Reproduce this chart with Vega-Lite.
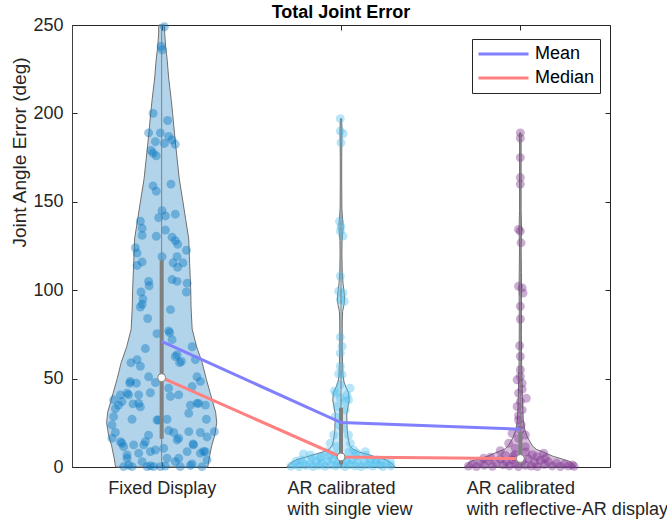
{
  "$schema": "https://vega.github.io/schema/vega-lite/v6.json",
  "width": 538,
  "height": 442,
  "autosize": {"type": "none"},
  "padding": {"left": 72, "top": 25, "right": 57, "bottom": 55},
  "background": "#ffffff",
  "title": {"text": "Total Joint Error", "fontSize": 18, "fontWeight": "bold", "color": "#000000", "anchor": "middle", "offset": 0, "baseline": "alphabetic", "dy": 20, "font": "Liberation Sans"},
  "config": {
    "font": "Liberation Sans",
    "view": {"stroke": "#262626", "strokeWidth": 1}
  },
  "datasets": {
    "violin": [
      {"g":"A","v":0,"lo":0.743,"hi":1.257},{"g":"A","v":5,"lo":0.735,"hi":1.265},{"g":"A","v":12,"lo":0.721,"hi":1.279},{"g":"A","v":18,"lo":0.704,"hi":1.296},{"g":"A","v":25,"lo":0.693,"hi":1.307},{"g":"A","v":31,"lo":0.699,"hi":1.301},{"g":"A","v":37,"lo":0.716,"hi":1.284},{"g":"A","v":42,"lo":0.730,"hi":1.270},{"g":"A","v":50,"lo":0.752,"hi":1.248},{"g":"A","v":59,"lo":0.774,"hi":1.226},{"g":"A","v":68,"lo":0.805,"hi":1.195},{"g":"A","v":78,"lo":0.830,"hi":1.170},{"g":"A","v":90,"lo":0.836,"hi":1.164},{"g":"A","v":100,"lo":0.838,"hi":1.162},{"g":"A","v":115,"lo":0.844,"hi":1.156},{"g":"A","v":129,"lo":0.849,"hi":1.151},{"g":"A","v":140,"lo":0.866,"hi":1.134},{"g":"A","v":151,"lo":0.883,"hi":1.117},{"g":"A","v":163,"lo":0.902,"hi":1.098},{"g":"A","v":185,"lo":0.925,"hi":1.075},{"g":"A","v":200,"lo":0.939,"hi":1.061},{"g":"A","v":208,"lo":0.947,"hi":1.053},{"g":"A","v":220,"lo":0.961,"hi":1.039},{"g":"A","v":230,"lo":0.969,"hi":1.031},{"g":"A","v":238,"lo":0.978,"hi":1.022},{"g":"A","v":245,"lo":0.983,"hi":1.017},{"g":"A","v":250,"lo":0.984,"hi":1.016},
      {"g":"B","v":0,"lo":1.699,"hi":2.301},{"g":"B","v":2,"lo":1.716,"hi":2.284},{"g":"B","v":4,"lo":1.749,"hi":2.251},{"g":"B","v":5.5,"lo":1.799,"hi":2.201},{"g":"B","v":7,"lo":1.849,"hi":2.151},{"g":"B","v":8.5,"lo":1.900,"hi":2.100},{"g":"B","v":10,"lo":1.933,"hi":2.067},{"g":"B","v":12,"lo":1.950,"hi":2.050},{"g":"B","v":15,"lo":1.958,"hi":2.042},{"g":"B","v":20,"lo":1.965,"hi":2.035},{"g":"B","v":25,"lo":1.967,"hi":2.033},{"g":"B","v":30,"lo":1.968,"hi":2.032},{"g":"B","v":34,"lo":1.961,"hi":2.039},{"g":"B","v":38,"lo":1.954,"hi":2.046},{"g":"B","v":42,"lo":1.958,"hi":2.042},{"g":"B","v":45,"lo":1.972,"hi":2.028},{"g":"B","v":48,"lo":1.983,"hi":2.017},{"g":"B","v":52,"lo":1.989,"hi":2.011},{"g":"B","v":58,"lo":1.991,"hi":2.009},{"g":"B","v":66,"lo":1.993,"hi":2.007},{"g":"B","v":74,"lo":1.993,"hi":2.007},{"g":"B","v":82,"lo":1.993,"hi":2.007},{"g":"B","v":88,"lo":1.991,"hi":2.009},{"g":"B","v":92,"lo":1.983,"hi":2.017},{"g":"B","v":95,"lo":1.980,"hi":2.020},{"g":"B","v":99,"lo":1.983,"hi":2.017},{"g":"B","v":104,"lo":1.989,"hi":2.011},{"g":"B","v":110,"lo":1.993,"hi":2.007},{"g":"B","v":120,"lo":1.995,"hi":2.005},{"g":"B","v":128,"lo":1.994,"hi":2.006},{"g":"B","v":132,"lo":1.991,"hi":2.009},{"g":"B","v":136,"lo":1.988,"hi":2.012},{"g":"B","v":140,"lo":1.991,"hi":2.009},{"g":"B","v":146,"lo":1.995,"hi":2.005},{"g":"B","v":160,"lo":1.996,"hi":2.004},{"g":"B","v":175,"lo":1.996,"hi":2.004},{"g":"B","v":185,"lo":1.995,"hi":2.005},{"g":"B","v":190,"lo":1.994,"hi":2.006},{"g":"B","v":194,"lo":1.9955,"hi":2.0045},{"g":"B","v":197,"lo":1.997,"hi":2.003},
      {"g":"C","v":0,"lo":2.693,"hi":3.307},{"g":"C","v":1.5,"lo":2.704,"hi":3.296},{"g":"C","v":3,"lo":2.721,"hi":3.279},{"g":"C","v":4.5,"lo":2.766,"hi":3.234},{"g":"C","v":6,"lo":2.816,"hi":3.184},{"g":"C","v":8,"lo":2.861,"hi":3.139},{"g":"C","v":10,"lo":2.911,"hi":3.089},{"g":"C","v":12,"lo":2.933,"hi":3.067},{"g":"C","v":14,"lo":2.944,"hi":3.056},{"g":"C","v":17,"lo":2.961,"hi":3.039},{"g":"C","v":21,"lo":2.975,"hi":3.025},{"g":"C","v":26,"lo":2.983,"hi":3.017},{"g":"C","v":32,"lo":2.986,"hi":3.014},{"g":"C","v":40,"lo":2.989,"hi":3.011},{"g":"C","v":50,"lo":2.991,"hi":3.009},{"g":"C","v":60,"lo":2.993,"hi":3.007},{"g":"C","v":75,"lo":2.994,"hi":3.006},{"g":"C","v":90,"lo":2.994,"hi":3.006},{"g":"C","v":100,"lo":2.993,"hi":3.007},{"g":"C","v":110,"lo":2.994,"hi":3.006},{"g":"C","v":125,"lo":2.9955,"hi":3.0045},{"g":"C","v":134,"lo":2.993,"hi":3.007},{"g":"C","v":145,"lo":2.9955,"hi":3.0045},{"g":"C","v":160,"lo":2.9955,"hi":3.0045},{"g":"C","v":175,"lo":2.9955,"hi":3.0045},{"g":"C","v":185,"lo":2.9955,"hi":3.0045},{"g":"C","v":189,"lo":2.997,"hi":3.003}
    ],
    "pts": [
      {"g":"A","x":1.015,"v":249},{"g":"A","x":0.997,"v":238},{"g":"A","x":1.003,"v":236},{"g":"A","x":0.952,"v":200},{"g":"A","x":1.033,"v":196},{"g":"A","x":0.927,"v":189},{"g":"A","x":0.993,"v":189},{"g":"A","x":1.039,"v":187},{"g":"A","x":0.965,"v":184},{"g":"A","x":1.015,"v":183},{"g":"A","x":1.058,"v":185},{"g":"A","x":1.076,"v":182.5},{"g":"A","x":0.941,"v":179},{"g":"A","x":0.952,"v":177.5},{"g":"A","x":0.970,"v":176},{"g":"A","x":0.952,"v":159},{"g":"A","x":0.970,"v":156},{"g":"A","x":1.052,"v":160},{"g":"A","x":1.002,"v":145},{"g":"A","x":0.983,"v":141},{"g":"A","x":1.021,"v":142},{"g":"A","x":1.076,"v":143},{"g":"A","x":0.881,"v":139},{"g":"A","x":0.891,"v":135},{"g":"A","x":0.891,"v":131},{"g":"A","x":0.970,"v":130.5},{"g":"A","x":1.021,"v":134},{"g":"A","x":1.058,"v":130},{"g":"A","x":1.076,"v":128},{"g":"A","x":1.089,"v":126},{"g":"A","x":1.138,"v":122.6},{"g":"A","x":0.853,"v":124},
      {"g":"A","x":0.863,"v":121},{"g":"A","x":1.002,"v":119},{"g":"A","x":0.891,"v":116},{"g":"A","x":0.863,"v":114},{"g":"A","x":1.086,"v":119},{"g":"A","x":1.064,"v":115.5},{"g":"A","x":1.089,"v":113},{"g":"A","x":1.119,"v":115.5},{"g":"A","x":0.927,"v":105},{"g":"A","x":0.930,"v":102.5},{"g":"A","x":1.058,"v":106},{"g":"A","x":1.086,"v":105},{"g":"A","x":1.142,"v":104},{"g":"A","x":1.138,"v":99},{"g":"A","x":0.885,"v":99},{"g":"A","x":0.896,"v":95},{"g":"A","x":0.891,"v":92},{"g":"A","x":0.881,"v":90.5},{"g":"A","x":1.049,"v":89},{"g":"A","x":0.922,"v":84},{"g":"A","x":1.039,"v":77},{"g":"A","x":1.045,"v":76},{"g":"A","x":0.974,"v":75.4},{"g":"A","x":1.058,"v":72},{"g":"A","x":1.086,"v":63.5},{"g":"A","x":1.076,"v":62.5},{"g":"A","x":0.909,"v":67},{"g":"A","x":1.170,"v":68},{"g":"A","x":1.188,"v":60.7},{"g":"A","x":1.100,"v":59},{"g":"A","x":0.829,"v":59},{"g":"A","x":0.863,"v":60.7},{"g":"A","x":0.881,"v":57},{"g":"A","x":0.927,"v":51},{"g":"A","x":0.825,"v":48.4},{"g":"A","x":0.822,"v":47.4},{"g":"A","x":0.965,"v":47.8},{"g":"A","x":1.197,"v":51},{"g":"A","x":1.216,"v":48.4},{"g":"A","x":1.170,"v":45.5},{"g":"A","x":1.039,"v":44.6},{"g":"A","x":0.770,"v":40.8},{"g":"A","x":0.816,"v":40.8},{"g":"A","x":0.872,"v":40.8},{"g":"A","x":0.872,"v":36},{"g":"A","x":0.937,"v":42},{"g":"A","x":0.760,"v":35},{"g":"A","x":0.742,"v":33},{"g":"A","x":0.840,"v":35.7},{"g":"A","x":0.881,"v":34},{"g":"A","x":1.160,"v":35},{"g":"A","x":1.197,"v":36},{"g":"A","x":1.244,"v":35},{"g":"A","x":1.151,"v":30.4},{"g":"A","x":0.732,"v":28.5},{"g":"A","x":0.835,"v":27},{"g":"A","x":0.974,"v":26.6},{"g":"A","x":1.030,"v":27},{"g":"A","x":1.249,"v":27},{"g":"A","x":0.723,"v":23.8},{"g":"A","x":0.742,"v":19.5},{"g":"A","x":0.927,"v":18},{"g":"A","x":1.039,"v":20.6},{"g":"A","x":1.067,"v":19.5},{"g":"A","x":1.151,"v":20},{"g":"A","x":1.216,"v":19.5},{"g":"A","x":1.294,"v":20},{"g":"A","x":1.086,"v":15.3},{"g":"A","x":1.253,"v":17},{"g":"A","x":0.770,"v":14.3},{"g":"A","x":0.788,"v":11.5},{"g":"A","x":0.844,"v":12.5},{"g":"A","x":0.872,"v":7.8},{"g":"A","x":0.909,"v":14.3},{"g":"A","x":0.937,"v":8.7},{"g":"A","x":0.965,"v":9.6},{"g":"A","x":1.011,"v":10.6},{"g":"A","x":1.030,"v":4.9},{"g":"A","x":1.142,"v":8.7},{"g":"A","x":1.175,"v":13},{"g":"A","x":1.216,"v":7.8},{"g":"A","x":1.244,"v":8.7},{"g":"A","x":0.807,"v":4.9},{"g":"A","x":0.835,"v":0.2},{"g":"A","x":0.891,"v":3},{"g":"A","x":0.919,"v":0.2},{"g":"A","x":0.955,"v":0.2},{"g":"A","x":0.993,"v":0.2},{"g":"A","x":0.788,"v":0.2},{"g":"A","x":1.076,"v":3},{"g":"A","x":1.104,"v":0.2},{"g":"A","x":1.170,"v":1.7},{"g":"A","x":1.225,"v":0.2},{"g":"A","x":1.253,"v":4},
      {"g":"A","x":0.779,"v":37},{"g":"A","x":0.732,"v":38},{"g":"A","x":1.206,"v":36},{"g":"A","x":0.983,"v":26.6},{"g":"A","x":0.723,"v":16.3},{"g":"A","x":0.779,"v":13.4},{"g":"A","x":0.900,"v":12.5},{"g":"A","x":1.095,"v":16.3},{"g":"A","x":1.178,"v":12.5},{"g":"A","x":1.234,"v":8.8},{"g":"A","x":0.807,"v":6.8},{"g":"A","x":1.095,"v":4.9},{"g":"A","x":0.816,"v":1.1},{"g":"A","x":0.937,"v":0.7},{"g":"A","x":1.160,"v":0.9},{"g":"A","x":1.020,"v":0.5},{"g":"A","x":1.049,"v":39.9},{"g":"A","x":1.095,"v":40.8},{"g":"A","x":0.807,"v":41.8},{"g":"A","x":1.110,"v":59.7},{"g":"A","x":0.859,"v":47.4},
      {"g":"B","x":1.996,"v":197},{"g":"B","x":1.996,"v":190},{"g":"B","x":2.012,"v":188.5},{"g":"B","x":2.0,"v":183.5},{"g":"B","x":1.992,"v":139},{"g":"B","x":2.0,"v":136},{"g":"B","x":1.996,"v":133.4},{"g":"B","x":2.011,"v":130.6},{"g":"B","x":1.996,"v":108},{"g":"B","x":1.987,"v":99.4},{"g":"B","x":2.011,"v":98.4},{"g":"B","x":1.996,"v":94.7},{"g":"B","x":2.018,"v":93.7},{"g":"B","x":1.996,"v":73.5},{"g":"B","x":2.006,"v":68.2},{"g":"B","x":1.996,"v":64.4},{"g":"B","x":1.996,"v":56.9},{"g":"B","x":2.006,"v":52.2},{"g":"B","x":1.987,"v":52.7},{"g":"B","x":1.996,"v":46.5},{"g":"B","x":1.974,"v":41.8},{"g":"B","x":2.033,"v":40.8},{"g":"B","x":1.996,"v":38.9},{"g":"B","x":2.042,"v":38},{"g":"B","x":1.978,"v":34.2},{"g":"B","x":2.024,"v":32.3},{"g":"B","x":1.968,"v":28.5},{"g":"B","x":1.987,"v":23.8},{"g":"B","x":2.011,"v":21.9},{"g":"B","x":1.959,"v":18.1},{"g":"B","x":2.042,"v":18.1},{"g":"B","x":1.940,"v":13.4},{"g":"B","x":2.052,"v":13.4},{"g":"B","x":1.978,"v":11.5},{"g":"B","x":2.070,"v":9.6},{"g":"B","x":1.922,"v":8.7},{"g":"B","x":2.136,"v":8.7},{"g":"B","x":1.829,"v":6.8},{"g":"B","x":1.884,"v":5.8},{"g":"B","x":2.089,"v":7.8},{"g":"B","x":1.791,"v":7.4},{"g":"B","x":2.200,"v":4},{"g":"B","x":2.275,"v":3},{"g":"B","x":2.050,"v":44.6},{"g":"B","x":1.964,"v":43},{"g":"B","x":2.024,"v":37},
      {"g":"B","x":1.721,"v":0.5},{"g":"B","x":1.743,"v":1.5},{"g":"B","x":1.766,"v":0.3},{"g":"B","x":1.788,"v":2.5},{"g":"B","x":1.805,"v":0.8},{"g":"B","x":1.827,"v":1.8},{"g":"B","x":1.844,"v":0.2},{"g":"B","x":1.861,"v":3},{"g":"B","x":1.877,"v":1},{"g":"B","x":1.894,"v":2},{"g":"B","x":1.911,"v":0.4},{"g":"B","x":1.927,"v":3.5},{"g":"B","x":1.944,"v":1.2},{"g":"B","x":1.955,"v":4.5},{"g":"B","x":1.972,"v":0.6},{"g":"B","x":1.983,"v":2.6},{"g":"B","x":2.0,"v":1.5},{"g":"B","x":2.011,"v":5},{"g":"B","x":2.022,"v":0.3},{"g":"B","x":2.033,"v":3},{"g":"B","x":2.050,"v":1.4},{"g":"B","x":2.061,"v":4},{"g":"B","x":2.078,"v":0.7},{"g":"B","x":2.095,"v":2.3},{"g":"B","x":2.112,"v":0.2},{"g":"B","x":2.128,"v":3.3},{"g":"B","x":2.145,"v":1.1},{"g":"B","x":2.162,"v":2},{"g":"B","x":2.178,"v":0.5},{"g":"B","x":2.195,"v":2.8},{"g":"B","x":2.217,"v":1.2},{"g":"B","x":2.234,"v":0.3},{"g":"B","x":2.257,"v":1.8},{"g":"B","x":2.279,"v":0.6},{"g":"B","x":1.888,"v":5.5},{"g":"B","x":2.084,"v":6},{"g":"B","x":1.967,"v":7},{"g":"B","x":2.045,"v":8.5},{"g":"B","x":1.777,"v":4},{"g":"B","x":1.838,"v":5},{"g":"B","x":2.167,"v":4.6},{"g":"B","x":2.223,"v":3.5},{"g":"B","x":1.749,"v":3.2},{"g":"B","x":1.933,"v":6.3},{"g":"B","x":2.139,"v":6.5},
      {"g":"C","x":3.0,"v":189},{"g":"C","x":3.0,"v":186},{"g":"C","x":3.0,"v":175},{"g":"C","x":3.0,"v":163.7},{"g":"C","x":3.0,"v":160},{"g":"C","x":2.99,"v":134.4},{"g":"C","x":3.0,"v":133.4},{"g":"C","x":3.004,"v":126.8},{"g":"C","x":2.99,"v":102.2},{"g":"C","x":3.01,"v":101.3},{"g":"C","x":3.015,"v":98.4},{"g":"C","x":3.0,"v":90.9},{"g":"C","x":3.0,"v":83.7},{"g":"C","x":2.996,"v":68.6},{"g":"C","x":3.0,"v":62.5},{"g":"C","x":3.0,"v":51.2},{"g":"C","x":2.982,"v":49.3},{"g":"C","x":3.01,"v":47.4},{"g":"C","x":2.99,"v":41.8},{"g":"C","x":3.033,"v":38.9},{"g":"C","x":3.0,"v":37},{"g":"C","x":2.982,"v":34.2},{"g":"C","x":3.01,"v":32.3},{"g":"C","x":2.99,"v":26.6},{"g":"C","x":3.0,"v":21},{"g":"C","x":2.954,"v":19},{"g":"C","x":3.028,"v":18.1},{"g":"C","x":2.935,"v":13.4},{"g":"C","x":3.028,"v":11.5},{"g":"C","x":2.972,"v":10.6},{"g":"C","x":2.888,"v":9.2},{"g":"C","x":3.13,"v":7.8},{"g":"C","x":2.795,"v":4.9},{"g":"C","x":3.093,"v":5.8},{"g":"C","x":3.0,"v":55},{"g":"C","x":3.01,"v":44},{"g":"C","x":2.99,"v":29},{"g":"C","x":3.005,"v":24},{"g":"C","x":2.99,"v":16},{"g":"C","x":2.97,"v":7},{"g":"C","x":3.03,"v":8.5},{"g":"C","x":2.96,"v":6},
      {"g":"C","x":2.710,"v":0.5},{"g":"C","x":2.732,"v":1.8},{"g":"C","x":2.755,"v":0.3},{"g":"C","x":2.777,"v":2.8},{"g":"C","x":2.799,"v":1},{"g":"C","x":2.822,"v":3.5},{"g":"C","x":2.844,"v":0.4},{"g":"C","x":2.866,"v":2.2},{"g":"C","x":2.888,"v":4.5},{"g":"C","x":2.905,"v":1.2},{"g":"C","x":2.922,"v":3},{"g":"C","x":2.939,"v":0.6},{"g":"C","x":2.955,"v":4},{"g":"C","x":2.972,"v":1.8},{"g":"C","x":2.989,"v":0.3},{"g":"C","x":3.011,"v":3.2},{"g":"C","x":3.028,"v":1},{"g":"C","x":3.045,"v":4.6},{"g":"C","x":3.061,"v":0.5},{"g":"C","x":3.078,"v":2.5},{"g":"C","x":3.095,"v":0.2},{"g":"C","x":3.112,"v":3.8},{"g":"C","x":3.134,"v":1.4},{"g":"C","x":3.156,"v":3},{"g":"C","x":3.178,"v":0.6},{"g":"C","x":3.201,"v":2.2},{"g":"C","x":3.223,"v":0.3},{"g":"C","x":3.245,"v":1.6},{"g":"C","x":3.268,"v":0.5},{"g":"C","x":3.290,"v":1.2},{"g":"C","x":3.300,"v":0.4},{"g":"C","x":2.833,"v":5.5},{"g":"C","x":3.139,"v":5},{"g":"C","x":2.916,"v":6.5},{"g":"C","x":3.067,"v":7}
    ],
    "box": [
      {"c":1,"q1":16,"q3":117,"lo":0,"hi":250,"med":50.5},
      {"c":2,"q1":1.5,"q3":33.5,"lo":0,"hi":197,"med":5.7},
      {"c":3,"q1":1.5,"q3":20,"lo":0,"hi":189,"med":4.8}
    ],
    "stats": [
      {"c":1,"stat":"Mean","v":71},{"c":2,"stat":"Mean","v":25.1},{"c":3,"stat":"Mean","v":21.4},
      {"c":1,"stat":"Median","v":50.5},{"c":2,"stat":"Median","v":5.7},{"c":3,"stat":"Median","v":4.8}
    ]
  },
  "resolve": {"axis": {"x": "independent", "y": "independent"}},
  "layer": [
    {
      "data": {"name": "violin"},
      "mark": {"type": "area", "orient": "horizontal", "fillOpacity": 0.3, "stroke": "#707070", "strokeWidth": 1},
      "encoding": {
        "y": {"field": "v", "type": "quantitative", "scale": {"domain": [0, 250], "nice": false, "zero": false},
          "axis": {"values": [0, 50, 100, 150, 200, 250], "title": "Joint Angle Error (deg)", "titleFontSize": 19, "titleFontWeight": "normal", "titleColor": "#262626", "titleX": -53, "titleY": 127, "titleAngle": -90, "titleAlign": "center", "titleBaseline": "middle", "labelFontSize": 18, "labelColor": "#262626", "labelPadding": 14, "labelBaseline": "middle", "tickSize": -5, "tickColor": "#262626", "domainColor": "#404040", "grid": false}},
        "x": {"field": "lo", "type": "quantitative", "scale": {"domain": [0.5, 3.5], "nice": false, "zero": false},
          "axis": {"values": [1, 2, 3], "title": null, "grid": false,
            "labelExpr": "datum.value == 1 ? 'Fixed Display' : datum.value == 2 ? ['AR calibrated', 'with single view'] : ['AR calibrated', 'with reflective-AR display']",
            "labelFontSize": 18, "labelColor": "#262626", "labelBaseline": "top", "labelPadding": 17, "labelLineHeight": 21, "labelLimit": 0,
            "labelAlign": {"condition": {"test": "datum.value == 1", "value": "center"}, "value": "left"},
            "labelOffset": {"condition": {"test": "datum.value == 1", "value": 0}, "value": -54},
            "tickSize": -5, "tickColor": "#262626", "domainColor": "#262626", "labelOverlap": false, "labelBound": false, "labelFlush": false}},
        "x2": {"field": "hi"},
        "fill": {"field": "g", "type": "nominal", "scale": {"domain": ["A", "B", "C"], "range": ["#0072BD", "#4DBEEE", "#7E2F8E"]}, "legend": null}
      }
    },
    {
      "data": {"name": "pts"},
      "mark": {"type": "circle", "size": 80, "opacity": 0.4, "strokeWidth": 0},
      "encoding": {
        "x": {"field": "x", "type": "quantitative", "axis": {"orient": "top", "values": [1, 2, 3], "labels": false, "title": null, "grid": false, "domain": false, "tickSize": -5, "tickColor": "#262626"}},
        "y": {"field": "v", "type": "quantitative", "axis": {"orient": "right", "values": [0, 50, 100, 150, 200, 250], "labels": false, "title": null, "grid": false, "domain": false, "tickSize": -5, "tickColor": "#262626"}},
        "fill": {"field": "g", "type": "nominal", "legend": null}
      }
    },
    {
      "data": {"name": "box"},
      "mark": {"type": "rule", "color": "#808080", "strokeWidth": 1},
      "encoding": {
        "x": {"field": "c", "type": "quantitative", "axis": null},
        "y": {"field": "lo", "type": "quantitative", "axis": null},
        "y2": {"field": "hi"}
      }
    },
    {
      "data": {"name": "box"},
      "mark": {"type": "rule", "color": "#808080", "strokeWidth": 4},
      "encoding": {
        "x": {"field": "c", "type": "quantitative", "axis": null},
        "y": {"field": "q1", "type": "quantitative", "axis": null},
        "y2": {"field": "q3"}
      }
    },
    {
      "data": {"name": "stats"},
      "mark": {"type": "line", "strokeWidth": 3},
      "encoding": {
        "x": {"field": "c", "type": "quantitative", "axis": null},
        "y": {"field": "v", "type": "quantitative", "axis": null},
        "stroke": {"field": "stat", "type": "nominal", "scale": {"domain": ["Mean", "Median"], "range": ["#8080ff", "#ff8080"]},
          "legend": {"title": null, "orient": "none", "legendX": 400, "legendY": 14, "direction": "vertical", "symbolType": "stroke", "symbolSize": 2500, "symbolStrokeWidth": 3, "labelFontSize": 18, "labelColor": "#000000", "labelOffset": 5, "padding": 5, "strokeColor": "#262626", "fillColor": "#ffffff", "clipHeight": 20, "rowPadding": 4, "symbolOffset": 0}}
      }
    },
    {
      "data": {"name": "box"},
      "mark": {"type": "point", "filled": true, "fill": "#ffffff", "stroke": "#808080", "strokeWidth": 1, "size": 64, "opacity": 1, "shape": "circle"},
      "encoding": {
        "x": {"field": "c", "type": "quantitative", "axis": null},
        "y": {"field": "med", "type": "quantitative", "axis": null}
      }
    }
  ]
}
